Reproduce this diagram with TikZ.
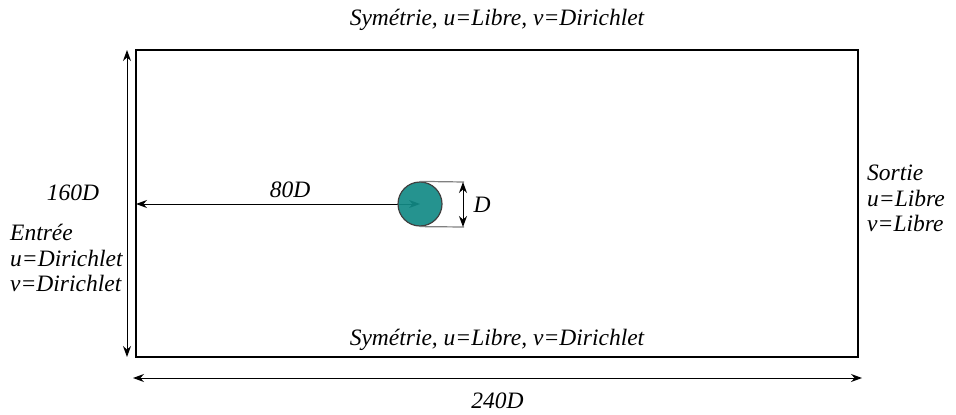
\documentclass[tikz,border=0pt]{standalone}
\usepackage{fontspec}
\setmainfont{Liberation Serif}
\usetikzlibrary{arrows.meta, positioning, calc}
\definecolor{cylteal}{RGB}{18,138,134}
\tikzset{
    lbl/.style={font=\fontsize{23.5}{25.5}\selectfont\itshape, inner sep=0pt},
    dimarrow/.style={{Stealth[length=11pt,width=8pt]}-{Stealth[length=11pt,width=8pt]}, line width=1pt},
    tangent/.style={gray, line width=1.2pt},
    cylinder/.style={circle, draw=black!75, line width=1.2pt, fill=cylteal, fill opacity=0.92, minimum size=44pt, inner sep=0pt},
}

\begin{document}
\begin{tikzpicture}[x=1pt, y=-1pt]
\useasboundingbox (0,0) rectangle (956,415);

% Domain corners
\coordinate (sw) at (136,357);
\coordinate (ne) at (858,50);
\coordinate (nw) at (136,50);
\coordinate (se) at (858,357);
\draw[line width=1.2pt] (sw) rectangle (ne);

% Cylinder
\coordinate (cc) at (420,204);
\draw[dimarrow] (cc) -- (cc -| sw) node[midway, above=6pt, lbl, xshift=12pt] (dist) {80D};
\node[cylinder] (cyl) at (cc) {};

% Diameter
\coordinate (dtop) at (464,182);
\coordinate (dbot) at (464,227);
\draw[tangent] (cyl.north) -- (dtop);
\draw[tangent] (cyl.south) -- (dbot);
\draw[dimarrow] ([xshift=-1pt]dtop) -- ([xshift=-1pt]dbot) node[midway, right=10pt, lbl] (diam) {D};

% Height and length of the domain
\draw[dimarrow] ([xshift=-9pt]nw) -- ([xshift=-9pt]sw);
\draw[dimarrow] ($(sw)+(-3,21)$) -- ($(se)+(4,21)$) node[midway, below=14pt, lbl] (len) {240D};
\node[lbl] (haut) at (73,193) {160D};

% Boundary conditions
\node[lbl, above=19pt of $(nw)!0.5!(ne)$] (top) {Symétrie, u=Libre, v=Dirichlet};
\node[lbl, above=6.5pt of $(sw)!0.5!(se)$] (bot) {Symétrie, u=Libre, v=Dirichlet};
\node[lbl, align=left, anchor=north west] (inlet) at (10,224) {Entrée\\u=Dirichlet\\v=Dirichlet};
\node[lbl, align=left, anchor=north west] (outlet) at (867,165) {Sortie\\u=Libre\\v=Libre};
\end{tikzpicture}
\end{document}
